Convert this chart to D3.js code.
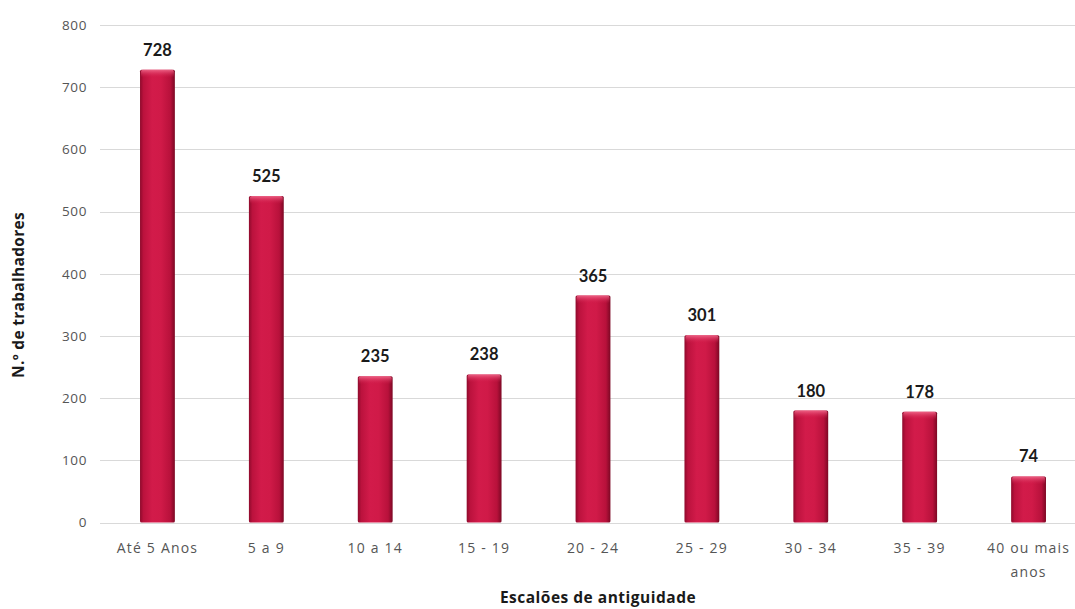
<!DOCTYPE html>
<html>
<head>
<meta charset="utf-8">
<script src="https://cdn.jsdelivr.net/npm/d3@7"></script>
<style>
  html, body { margin: 0; padding: 0; background: #fff; }
  svg { display: block; }
</style>
</head>
<body>
<svg id="chart" width="1075" height="609"></svg>
<script>
// Trabalhadores por escalão de antiguidade
const categories = ["Até 5 Anos", "5 a 9", "10 a 14", "15 - 19", "20 - 24", "25 - 29", "30 - 34", "35 - 39", "40 ou mais|anos"];
const values = [728, 525, 235, 238, 365, 301, 180, 178, 74];
const yTicks = [0, 100, 200, 300, 400, 500, 600, 700, 800];

const svg = d3.select("#chart");
const W = 1075, H = 609;

const x = d3.scaleBand().domain(categories).range([103, 1083]).paddingInner(0.68).paddingOuter(0.34);
const y = d3.scaleLinear().domain([0, 800]).range([522.5, 25]);

// bar gradient
const defs = svg.append("defs");
const g = defs.append("linearGradient").attr("id", "barGrad").attr("x1", "0").attr("x2", "1").attr("y1", "0").attr("y2", "0");
[[0, "#8e0a2c"], [0.1, "#bb123d"], [0.35, "#d21b4a"], [0.6, "#d01a48"], [0.87, "#b8113b"], [1, "#7c0824"]]
  .forEach(([o, c]) => g.append("stop").attr("offset", o).attr("stop-color", c));
const gt = defs.append("linearGradient").attr("id", "topGrad").attr("x1", "0").attr("x2", "0").attr("y1", "0").attr("y2", "1");
[[0, "#f06a8c", 0.9], [1, "#d21a4a", 0]]
  .forEach(([o, c, a]) => gt.append("stop").attr("offset", o).attr("stop-color", c).attr("stop-opacity", a));

// gridlines
svg.append("g")
  .selectAll("line").data(yTicks).join("line")
  .attr("x1", 100).attr("x2", W)
  .attr("y1", d => Math.round(y(d)) + 0.5).attr("y2", d => Math.round(y(d)) + 0.5)
  .attr("stroke", "#d9d9d9").attr("stroke-width", 1);

// y axis labels
const yAxis = d3.axisLeft(y).tickValues(yTicks).tickSize(0).tickPadding(0);
const ya = svg.append("g").attr("transform", "translate(87,0)").call(yAxis);
ya.select(".domain").remove();
ya.selectAll("text").attr("font-family", "'Open Sans', sans-serif").attr("font-size", 13.5)
  .attr("letter-spacing", 0.6).attr("fill", "#555");

// x axis labels
const xAxis = d3.axisBottom(x).tickSize(0).tickPadding(0).tickFormat(() => "");
const xa = svg.append("g").attr("transform", "translate(0,540)").call(xAxis);
xa.select(".domain").remove();
xa.selectAll(".tick").each(function(d) {
  const t = d3.select(this).select("text").text(null)
    .attr("y", 0).attr("dy", null)
    .attr("font-family", "'Open Sans', sans-serif").attr("font-size", 14).attr("fill", "#555")
    .attr("letter-spacing", 1.2);
  d.split("|").forEach((s, i) => t.append("tspan").attr("x", 0).attr("y", 13 + i * 24).text(s));
});

// bars
const bars = svg.append("g");
categories.forEach((c, i) => {
  const x0 = x(c), bw = x.bandwidth(), y0 = y(values[i]), h = y(0) - y0;
  bars.append("rect").attr("x", x0).attr("y", y0).attr("width", bw).attr("height", h)
    .attr("fill", "url(#barGrad)").attr("rx", 1.5);
  bars.append("rect").attr("x", x0 + 1).attr("y", y0).attr("width", bw - 2).attr("height", Math.min(8, h))
    .attr("fill", "url(#topGrad)").attr("rx", 2);
});

// value labels
svg.append("g").selectAll("text").data(values).join("text")
  .attr("x", (d, i) => x(categories[i]) + x.bandwidth() / 2)
  .attr("y", d => y(d) - 14)
  .attr("text-anchor", "middle")
  .attr("font-family", "Lato, sans-serif").attr("font-weight", "bold").attr("font-size", 16.5)
  .attr("fill", "#1a1a1a")
  .text(d => d);

// axis titles
svg.append("text")
  .attr("transform", "translate(24,295) rotate(-90)")
  .attr("text-anchor", "middle")
  .attr("font-family", "'Open Sans', sans-serif").attr("font-weight", "bold").attr("font-size", 15.5)
  .attr("letter-spacing", 0.3)
  .attr("fill", "#1a1a1a")
  .text("N.º de trabalhadores");

svg.append("text")
  .attr("x", 598).attr("y", 603)
  .attr("text-anchor", "middle")
  .attr("font-family", "'Open Sans', sans-serif").attr("font-weight", "bold").attr("font-size", 15.5)
  .attr("letter-spacing", 0.5)
  .attr("fill", "#1a1a1a")
  .text("Escalões de antiguidade");
</script>
</body>
</html>
